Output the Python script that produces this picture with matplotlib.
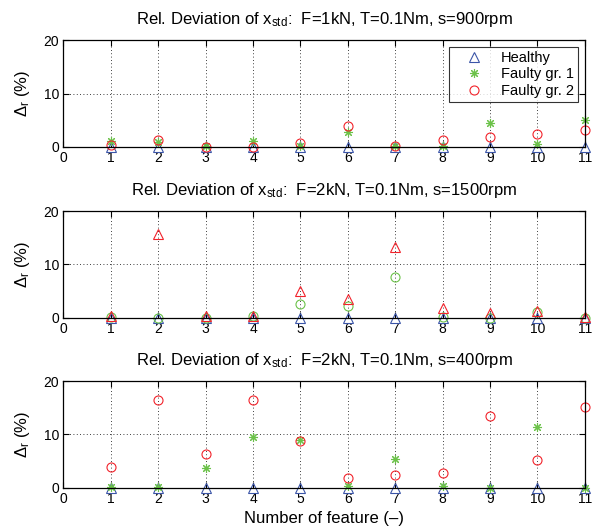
import matplotlib
matplotlib.use("Agg")
import matplotlib.pyplot as plt


plt.rcParams["font.family"] = ["Liberation Sans", "DejaVu Sans"]
plt.rcParams["mathtext.fontset"] = "custom"
plt.rcParams["mathtext.rm"] = "Liberation Sans"
plt.rcParams["mathtext.it"] = "Liberation Sans:italic"

# =====================================
# DATA
# =====================================
features = [1, 2, 3, 4, 5, 6, 7, 8, 9, 10, 11]

titles = [
    "F=1kN, T=0.1Nm, s=900rpm",
    "F=2kN, T=0.1Nm, s=1500rpm",
    "F=2kN, T=0.1Nm, s=400rpm",
]

healthy_900 = [0, 0, 0, 0, 0, 0, 0, 0, 0, 0, 0]
faulty1_900 = [1.0, 0.8, 0.1, 1.0, 0.2, 2.8, 0.2, 0.2, 4.5, 0.6, 5.1]
faulty2_900 = [0.4, 1.2, 0.0, 0.0, 0.75, 3.85, 0.2, 1.25, 1.8, 2.35, 3.2]

healthy_1500 = [0, 0, 0, 0, 0, 0, 0, 0, 0, 0, 0]
faulty1_1500 = [0.1, 0.0, 0.0, 0.2, 2.5, 2.2, 7.7, 0.1, 0.0, 1.05, 0.0]
faulty2_1500 = [0.2, 15.7, 0.3, 0.3, 4.95, 3.4, 13.2, 1.7, 0.8, 1.2, 0.1]

healthy_400 = [0, 0, 0, 0, 0, 0, 0, 0, 0, 0, 0]
faulty1_400 = [0.1, 0.1, 3.6, 9.5, 8.85, 0.3, 5.45, 0.2, 0.0, 11.45, 0.0]
faulty2_400 = [3.8, 16.4, 6.4, 16.5, 8.7, 1.85, 2.4, 2.65, 13.4, 5.2, 15.1]

blue = "#3b55a8"
green = "#6cc24a"
red = "#f2232b"

# =====================================
# FIGURE
# =====================================
fig = plt.figure(figsize=(5.98, 5.29), dpi=100)

bottoms = [0.7227, 0.3998, 0.0784]
axes = [fig.add_axes([0.106, b, 0.872, 0.201]) for b in bottoms]

style = dict(linestyle="none", markersize=6.5, markerfacecolor="none",
             markeredgewidth=0.8, clip_on=False)
star = dict(linestyle="none", marker=(8, 2, 0), markersize=6.5,
            markeredgewidth=0.8, clip_on=False)

ax = axes[0]
ax.plot(features, healthy_900, marker="^", color=blue, label="Healthy", **style)
ax.plot(features, faulty1_900, color=green, label="Faulty gr. 1", **star)
ax.plot(features, faulty2_900, marker="o", color=red, label="Faulty gr. 2", **style)
leg = ax.legend(loc="upper right", fontsize=10.5, frameon=True, fancybox=False,
                borderpad=0.3, labelspacing=0.15, handletextpad=0.45,
                handlelength=2.8, borderaxespad=0.45)
leg.get_frame().set_edgecolor("black")
leg.get_frame().set_linewidth(0.8)

ax = axes[1]
ax.plot(features, healthy_1500, marker="^", color=blue, **style)
ax.plot(features, faulty1_1500, marker="o", color=green, **style)
ax.plot(features, faulty2_1500, marker="^", color=red, **style)

ax = axes[2]
ax.plot(features, healthy_400, marker="^", color=blue, **style)
ax.plot(features, faulty1_400, color=green, **star)
ax.plot(features, faulty2_400, marker="o", color=red, **style)

for ax, t in zip(axes, titles):
    ax.set_xlim(0, 11)
    ax.set_ylim(0, 20)
    ax.set_xticks(range(0, 12))
    ax.set_yticks([0, 10, 20])
    ax.grid(True, color="black", linestyle=(0, (1, 3)), linewidth=0.6)
    ax.tick_params(direction="in", top=True, right=True, length=4,
                   labelsize=10, width=0.8, pad=3)
    for s in ax.spines.values():
        s.set_linewidth(0.9)
    ax.set_title(r"Rel. Deviation of x$_{\mathrm{std}}$:  " + t,
                 fontsize=12, pad=12)
    ax.set_ylabel(r"$\Delta_{\mathrm{r}}$ (%)", fontsize=12, labelpad=8)

axes[2].set_xlabel("Number of feature (–)", fontsize=12, labelpad=4)

plt.savefig("out.png", dpi=100)
